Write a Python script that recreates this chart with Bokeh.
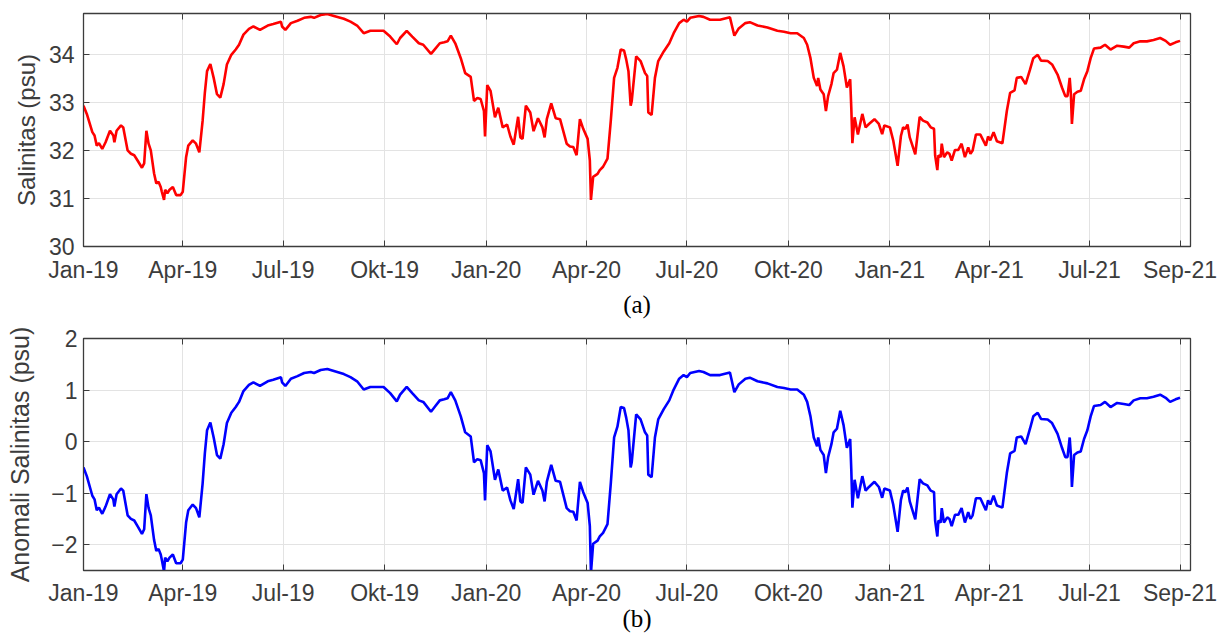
from bokeh.plotting import figure
from bokeh.models import FixedTicker, LinearAxis, Range1d, ColumnDataSource
from bokeh.layouts import column
from bokeh.embed import file_html
from bokeh.resources import INLINE

# days since 1 Jan 2019
day = [0, 3, 8, 10, 12, 14, 17, 20, 24, 27, 28, 30, 34, 36, 40, 43, 46, 49, 53, 55,
       57, 59, 61, 64, 66, 68, 70, 71, 73, 74, 76, 78, 81, 84, 88, 90, 93, 95, 99, 102,
       105, 108, 110, 112, 115, 118, 121, 124, 127, 130, 134, 138, 141, 145, 150, 154, 160, 167, 172, 179,
       180, 183, 188, 194, 200, 206, 209, 215, 221, 227, 236, 242, 248, 254, 260, 272, 278, 284, 287, 293,
       298, 304, 308, 315, 319, 323, 327, 330, 333, 337, 342, 346, 351, 354, 357, 360, 363, 364, 366, 369,
       373, 376, 380, 384, 387, 390, 394, 396, 398, 401, 405, 408, 412, 416, 418, 420, 424, 428, 432, 438,
       441, 444, 447, 450, 453, 457, 459, 460, 462, 466, 468, 471, 475, 478, 481, 484, 487, 490, 492, 494,
       496, 497, 501, 505, 509, 511, 512, 515, 518, 521, 526, 531, 535, 540, 544, 547, 550, 558, 562, 568,
       577, 586, 588, 590, 594, 600, 604, 611, 620, 629, 635, 641, 647, 653, 656, 659, 662, 665, 666, 668,
       671, 673, 675, 678, 680, 683, 686, 689, 692, 695, 696, 697, 699, 702, 706, 709, 712, 717, 721, 724,
       726, 731, 734, 738, 741, 743, 745, 747, 749, 754, 758, 761, 765, 768, 771, 772, 774, 775, 777, 778,
       780, 783, 785, 787, 790, 793, 796, 799, 802, 804, 806, 809, 813, 818, 820, 822, 825, 828, 833, 837,
       840, 844, 846, 850, 854, 858, 861, 865, 868, 874, 878, 883, 887, 890, 892, 894, 895, 896, 898, 901,
       904, 907, 910, 913, 916, 922, 926, 931, 937, 943, 948, 952, 958, 964, 970, 976, 981, 985, 990, 994]

salinity = [32.93, 32.76, 32.38, 32.31, 32.10, 32.15, 32.03, 32.17, 32.41, 32.31, 32.17, 32.41, 32.52, 32.48, 32.00, 31.93, 31.90, 31.79, 31.64, 31.73,
            32.41, 32.14, 32.00, 31.52, 31.31, 31.35, 31.24, 31.14, 30.97, 31.18, 31.11, 31.18, 31.24, 31.07, 31.07, 31.14, 31.86, 32.10, 32.21, 32.14,
            31.96, 32.62, 33.20, 33.65, 33.80, 33.51, 33.17, 33.10, 33.38, 33.79, 33.99, 34.10, 34.20, 34.41, 34.53, 34.58, 34.51, 34.60, 34.63, 34.68,
            34.58, 34.51, 34.65, 34.70, 34.76, 34.78, 34.76, 34.82, 34.84, 34.80, 34.74, 34.68, 34.60, 34.44, 34.49, 34.49, 34.37, 34.21, 34.34, 34.49,
            34.37, 34.23, 34.20, 34.01, 34.12, 34.23, 34.25, 34.27, 34.39, 34.23, 33.92, 33.61, 33.53, 33.03, 33.09, 33.07, 32.82, 32.29, 33.36, 33.24,
            32.69, 32.89, 32.48, 32.54, 32.29, 32.12, 32.70, 32.27, 32.24, 32.93, 32.79, 32.40, 32.67, 32.48, 32.27, 32.65, 32.98, 32.67, 32.65, 32.14,
            32.08, 32.07, 31.90, 32.65, 32.45, 32.24, 31.79, 30.97, 31.45, 31.51, 31.59, 31.66, 31.83, 32.62, 33.51, 33.72, 34.10, 34.08, 33.89, 33.65,
            32.93, 33.03, 33.96, 33.86, 33.61, 33.55, 32.79, 32.74, 33.51, 33.86, 34.06, 34.23, 34.44, 34.65, 34.72, 34.68, 34.76, 34.80, 34.78, 34.72,
            34.72, 34.77, 34.58, 34.39, 34.54, 34.65, 34.67, 34.60, 34.56, 34.49, 34.47, 34.44, 34.44, 34.34, 34.20, 33.92, 33.51, 33.34, 33.51, 33.27,
            33.17, 32.82, 33.13, 33.38, 33.61, 33.68, 34.03, 33.75, 33.31, 33.48, 32.89, 32.15, 32.69, 32.33, 32.76, 32.48, 32.55, 32.65, 32.55, 32.34,
            32.52, 32.48, 32.21, 31.68, 32.30, 32.48, 32.45, 32.54, 32.27, 31.92, 32.70, 32.62, 32.58, 32.48, 32.45, 31.90, 31.59, 31.90, 31.86, 32.14,
            31.86, 31.96, 31.93, 31.79, 32.01, 32.01, 32.14, 31.86, 32.06, 31.93, 32.00, 32.33, 32.33, 32.10, 32.29, 32.21, 32.38, 32.19, 32.15, 32.82,
            33.20, 33.25, 33.51, 33.53, 33.38, 33.68, 33.92, 33.99, 33.87, 33.86, 33.79, 33.58, 33.31, 33.13, 33.13, 33.51, 33.20, 32.55, 33.17, 33.22,
            33.24, 33.48, 33.65, 33.92, 34.12, 34.14, 34.20, 34.10, 34.18, 34.16, 34.14, 34.23, 34.27, 34.27, 34.30, 34.34, 34.28, 34.20, 34.25, 34.28]

anomaly = [-0.50, -0.67, -1.05, -1.12, -1.33, -1.28, -1.40, -1.26, -1.02, -1.12, -1.26, -1.02, -0.91, -0.95, -1.43, -1.50, -1.53, -1.64, -1.79, -1.70,
           -1.02, -1.29, -1.43, -1.91, -2.12, -2.08, -2.19, -2.29, -2.52, -2.25, -2.32, -2.25, -2.19, -2.36, -2.36, -2.29, -1.57, -1.33, -1.22, -1.29,
           -1.47, -0.81, -0.23, 0.22, 0.37, 0.08, -0.26, -0.33, -0.05, 0.36, 0.56, 0.67, 0.77, 0.98, 1.10, 1.15, 1.08, 1.17, 1.20, 1.25,
           1.15, 1.08, 1.22, 1.27, 1.33, 1.35, 1.33, 1.39, 1.41, 1.37, 1.31, 1.25, 1.17, 1.01, 1.06, 1.06, 0.94, 0.78, 0.91, 1.06,
           0.94, 0.80, 0.77, 0.58, 0.69, 0.80, 0.82, 0.84, 0.96, 0.80, 0.49, 0.18, 0.10, -0.40, -0.34, -0.36, -0.61, -1.14, -0.07, -0.19,
           -0.74, -0.54, -0.95, -0.89, -1.14, -1.31, -0.73, -1.16, -1.19, -0.50, -0.64, -1.03, -0.76, -0.95, -1.16, -0.78, -0.45, -0.76, -0.78, -1.29,
           -1.35, -1.36, -1.53, -0.78, -0.98, -1.19, -1.64, -2.55, -1.98, -1.92, -1.84, -1.77, -1.60, -0.81, 0.08, 0.29, 0.67, 0.65, 0.46, 0.22,
           -0.50, -0.40, 0.53, 0.43, 0.18, 0.12, -0.64, -0.69, 0.08, 0.43, 0.63, 0.80, 1.01, 1.22, 1.29, 1.25, 1.33, 1.37, 1.35, 1.29,
           1.29, 1.34, 1.15, 0.96, 1.11, 1.22, 1.24, 1.17, 1.13, 1.06, 1.04, 1.01, 1.01, 0.91, 0.77, 0.49, 0.08, -0.09, 0.08, -0.16,
           -0.26, -0.61, -0.30, -0.05, 0.18, 0.25, 0.60, 0.32, -0.12, 0.05, -0.54, -1.28, -0.74, -1.10, -0.67, -0.95, -0.88, -0.78, -0.88, -1.09,
           -0.91, -0.95, -1.22, -1.75, -1.13, -0.95, -0.98, -0.89, -1.16, -1.51, -0.73, -0.81, -0.85, -0.95, -0.98, -1.53, -1.84, -1.53, -1.57, -1.29,
           -1.57, -1.47, -1.50, -1.64, -1.42, -1.42, -1.29, -1.57, -1.37, -1.50, -1.43, -1.10, -1.10, -1.33, -1.14, -1.22, -1.05, -1.24, -1.28, -0.61,
           -0.23, -0.18, 0.08, 0.10, -0.05, 0.25, 0.49, 0.56, 0.44, 0.43, 0.36, 0.15, -0.12, -0.30, -0.30, 0.08, -0.23, -0.88, -0.26, -0.21,
           -0.19, 0.05, 0.22, 0.49, 0.69, 0.71, 0.77, 0.67, 0.75, 0.73, 0.71, 0.80, 0.84, 0.84, 0.87, 0.91, 0.85, 0.77, 0.82, 0.85]

tick_days = [0, 90, 181, 273, 365, 456, 547, 639, 731, 821, 912, 994]
tick_labels = ["Jan-19", "Apr-19", "Jul-19", "Okt-19", "Jan-20", "Apr-20",
               "Jul-20", "Okt-20", "Jan-21", "Apr-21", "Jul-21", "Sep-21"]
sal_ticks = [30, 31, 32, 33, 34]
anom_ticks = [-2, -1, 0, 1, 2]

SANS = "Liberation Sans"
SERIF = "Liberation Serif"
TXT = "#3c3c3c"
FRAME = "#3c3c3c"
GRID = "#e3e3e3"


def panel(y, color, yr, yticks, ylabel, caption, height, btop, bbottom,
          ylab_size, ylab_standoff, ymaj_standoff, xmaj_standoff, cap_standoff):
    src = ColumnDataSource(dict(x=day, y=y))
    p = figure(width=1229, height=height, output_backend="svg", toolbar_location=None,
               x_range=Range1d(0, 1003.5), y_range=Range1d(*yr),
               min_border_left=83, min_border_right=39,
               min_border_top=btop, min_border_bottom=bbottom)
    p.line("x", "y", source=src, line_color=color, line_width=2.6)
    p.background_fill_color = "white"
    p.border_fill_color = "white"
    p.outline_line_color = FRAME
    p.outline_line_width = 1.3
    p.outline_line_alpha = 1

    xt = FixedTicker(ticks=tick_days)
    yt = FixedTicker(ticks=yticks)
    p.xaxis.ticker = xt
    p.yaxis.ticker = yt
    p.xaxis.major_label_overrides = {d: l for d, l in zip(tick_days, tick_labels)}
    p.xgrid.ticker = xt
    p.ygrid.ticker = yt
    for g in (p.xgrid, p.ygrid):
        g.grid_line_color = GRID
        g.grid_line_width = 1

    for ax in (p.xaxis[0], p.yaxis[0]):
        ax.major_tick_in = 6
        ax.major_tick_out = 0
        ax.minor_tick_line_color = None
        ax.axis_line_color = FRAME
        ax.major_tick_line_color = FRAME
        ax.major_label_text_font = SANS
        ax.major_label_text_font_size = "23px"
        ax.major_label_text_color = TXT

    p.xaxis.major_label_standoff = xmaj_standoff
    p.yaxis.major_label_standoff = ymaj_standoff
    p.yaxis.axis_label = ylabel
    p.yaxis.axis_label_text_font = SANS
    p.yaxis.axis_label_text_font_size = ylab_size
    p.yaxis.axis_label_text_font_style = "normal"
    p.yaxis.axis_label_text_color = TXT
    p.yaxis.axis_label_standoff = ylab_standoff

    p.xaxis.axis_label = caption
    p.xaxis.axis_label_text_font = SERIF
    p.xaxis.axis_label_text_font_size = "25px"
    p.xaxis.axis_label_text_font_style = "normal"
    p.xaxis.axis_label_text_color = "black"
    p.xaxis.axis_label_standoff = cap_standoff

    top = LinearAxis(ticker=xt, major_label_text_font_size="1px", major_label_text_color=None,
                     major_tick_in=6, major_tick_out=0, minor_tick_line_color=None,
                     axis_line_color=None, major_tick_line_color=FRAME, major_label_standoff=0)
    right = LinearAxis(ticker=yt, major_label_text_font_size="1px", major_label_text_color=None,
                       major_tick_in=6, major_tick_out=0, minor_tick_line_color=None,
                       axis_line_color=None, major_tick_line_color=FRAME, major_label_standoff=0)
    p.add_layout(top, "above")
    p.add_layout(right, "right")
    return p


p1 = panel(salinity, "#ff0000", (30, 34.85), sal_ticks, "Salinitas (psu)", "(a)",
           322, 13, 76, "24px", 6, 9, 10, 5)
p2 = panel(anomaly, "#0000ff", (-2.5, 2.0), anom_ticks, "Anomali Salinitas (psu)", "(b)",
           313, 16, 65, "25px", 14, 6, 9, -4)

layout = column(p1, p2, spacing=0)
open("out.html", "w").write(file_html(layout, INLINE))
